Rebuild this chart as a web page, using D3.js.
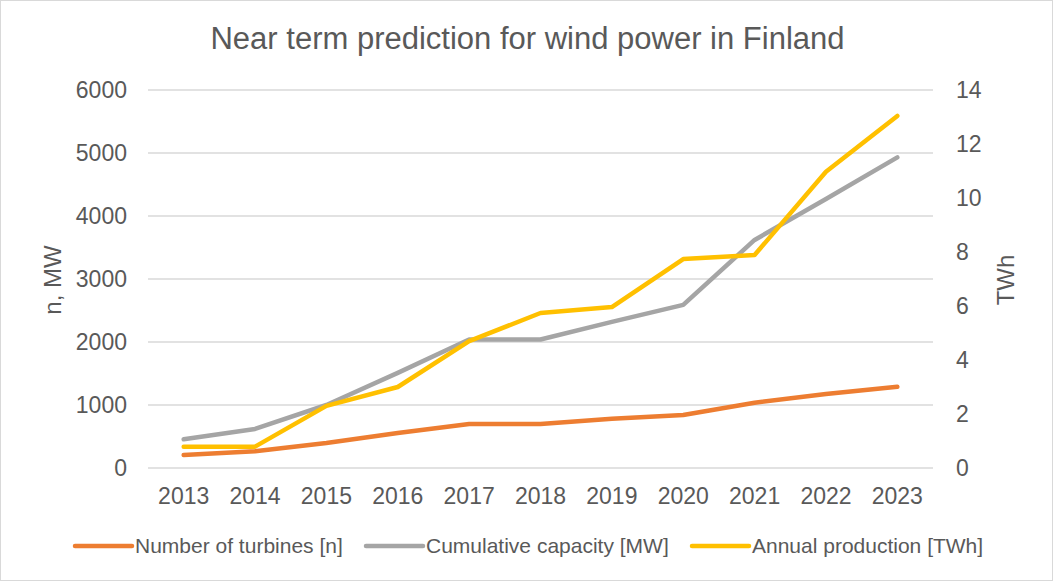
<!DOCTYPE html>
<html>
<head>
<meta charset="utf-8">
<script src="https://cdn.jsdelivr.net/npm/d3@7"></script>
<style>
  body { margin: 0; background: #fff; }
  svg { font-family: 'Liberation Sans', Arial, sans-serif; }
</style>
</head>
<body>
<svg id="chart" width="1053" height="581"></svg>
<script>
// data
const years = ['2013', '2014', '2015', '2016', '2017', '2018', '2019', '2020', '2021', '2022', '2023'];
const turbines = [206, 265, 397, 555, 698, 698, 780, 840, 1037, 1175, 1290];
const capacity = [455, 620, 1000, 1510, 2040, 2040, 2320, 2590, 3620, 4270, 4930];
const production = [0.79, 0.79, 2.3, 3.0, 4.7, 5.74, 5.96, 7.74, 7.89, 10.97, 13.04];
const leftTicks = [0, 1000, 2000, 3000, 4000, 5000, 6000];
const rightTicks = [0, 2, 4, 6, 8, 10, 12, 14];

const width = 1053;
const height = 581;
const margin = { top: 90, right: 120, bottom: 113, left: 148 };
const textColor = '#595959';

const svg = d3.select('#chart');

// outer frame
svg.append('rect')
  .attr('x', 0.5).attr('y', 0.5)
  .attr('width', width - 1).attr('height', height - 1)
  .attr('fill', '#fff')
  .attr('stroke', '#d9d9d9');

const x = d3.scaleBand()
  .domain(years)
  .range([margin.left, width - margin.right]);

const yLeft = d3.scaleLinear().domain([0, 6000]).range([height - margin.bottom, margin.top]);
const yRight = d3.scaleLinear().domain([0, 14]).range([height - margin.bottom, margin.top]);

// gridlines
svg.append('g')
  .selectAll('line')
  .data(leftTicks)
  .join('line')
  .attr('x1', margin.left)
  .attr('x2', width - margin.right)
  .attr('y1', (d) => yLeft(d))
  .attr('y2', (d) => yLeft(d))
  .attr('stroke', '#d9d9d9')
  .attr('stroke-width', 1.5);

// axes (labels only)
const axisLeft = svg.append('g')
  .attr('transform', `translate(${margin.left - 21},0)`)
  .call(d3.axisLeft(yLeft).tickValues(leftTicks).tickFormat(d3.format('d')).tickSize(0).tickPadding(0));

const axisRight = svg.append('g')
  .attr('transform', `translate(${width - margin.right + 23},0)`)
  .call(d3.axisRight(yRight).tickValues(rightTicks).tickSize(0).tickPadding(0));

const axisBottom = svg.append('g')
  .attr('transform', `translate(0,${height - margin.bottom})`)
  .call(d3.axisBottom(x).tickSize(0).tickPadding(0));

[axisLeft, axisRight, axisBottom].forEach((g) => {
  g.select('.domain').remove();
  g.selectAll('text')
    .attr('fill', textColor)
    .style('font-size', '23px')
    .style('font-family', "'Liberation Sans', Arial, sans-serif");
});
axisBottom.selectAll('text').attr('y', 36).attr('dy', 0);

// axis titles
svg.append('text')
  .attr('transform', `translate(53,280) rotate(-90)`)
  .attr('text-anchor', 'middle')
  .attr('dy', '0.35em')
  .attr('fill', textColor)
  .style('font-size', '24px')
  .text('n, MW');

svg.append('text')
  .attr('transform', `translate(1006,280) rotate(-90)`)
  .attr('text-anchor', 'middle')
  .attr('dy', '0.35em')
  .attr('fill', textColor)
  .style('font-size', '24px')
  .text('TWh');

// title
svg.append('text')
  .attr('x', width / 2 + 1)
  .attr('y', 49)
  .attr('text-anchor', 'middle')
  .attr('fill', textColor)
  .style('font-size', '31px')
  .text('Near term prediction for wind power in Finland');

// lines
const cx = (d, i) => x(years[i]) + x.bandwidth() / 2;
const series = [
  { name: 'Number of turbines [n]', values: turbines, scale: yLeft, color: '#ED7D31' },
  { name: 'Cumulative capacity [MW]', values: capacity, scale: yLeft, color: '#A5A5A5' },
  { name: 'Annual production [TWh]', values: production, scale: yRight, color: '#FFC000' }
];

// draw order: capacity, production on top, turbines
[series[1], series[2], series[0]].forEach((s) => {
  const line = d3.line()
    .x(cx)
    .y((d) => s.scale(d));
  svg.append('path')
    .datum(s.values)
    .attr('d', line)
    .attr('fill', 'none')
    .attr('stroke', s.color)
    .attr('stroke-width', 4.5)
    .attr('stroke-linejoin', 'round')
    .attr('stroke-linecap', 'round');
});

// legend
const legendX = [75, 366, 692];
const legend = svg.append('g');
series.forEach((s, i) => {
  const g = legend.append('g').attr('transform', `translate(${legendX[i]},546)`);
  g.append('line')
    .attr('x1', 0).attr('x2', 57)
    .attr('stroke', s.color)
    .attr('stroke-width', 4.5)
    .attr('stroke-linecap', 'round');
  g.append('text')
    .attr('x', 60)
    .attr('dy', '0.35em')
    .attr('fill', textColor)
    .style('font-size', '21px')
    .text(s.name);
});
</script>
</body>
</html>
